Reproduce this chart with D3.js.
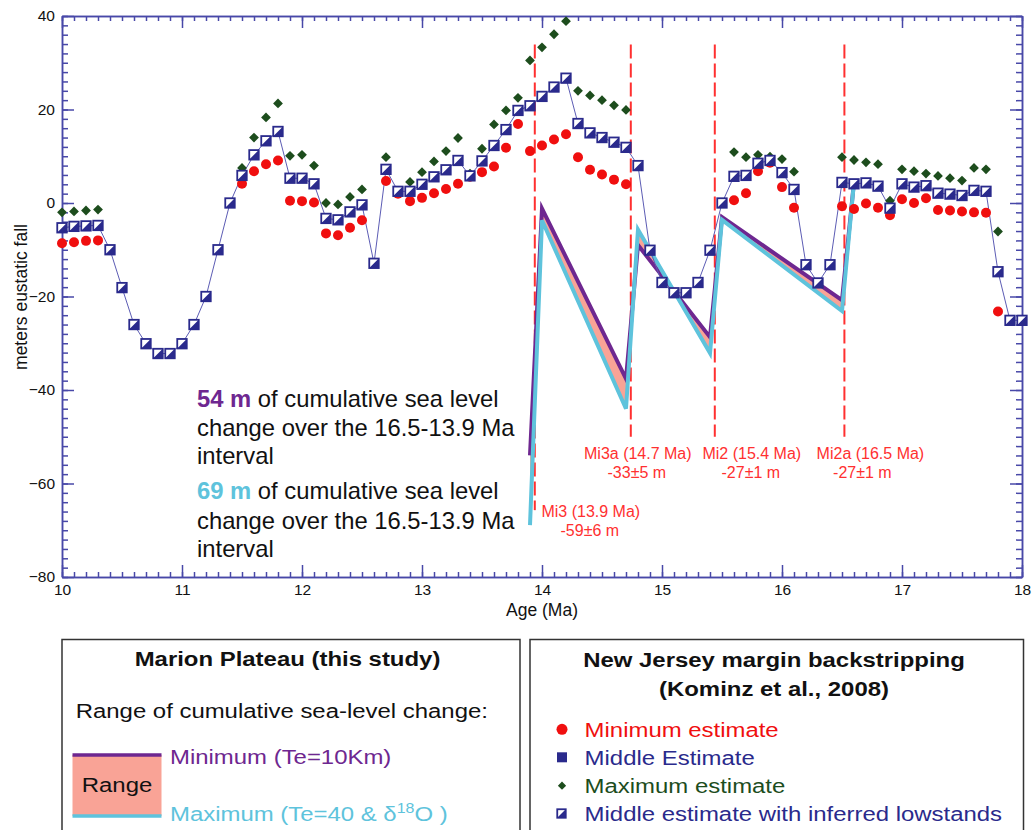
<!DOCTYPE html>
<html>
<head>
<meta charset="utf-8">
<script src="https://cdn.jsdelivr.net/npm/d3@7"></script>
<style>
  body { margin: 0; background: #fff; }
  text { font-family: "Liberation Sans", Arial, Helvetica, sans-serif; white-space: pre; }
</style>
</head>
<body>
<div id="chart"></div>
<script>
// New Jersey backstripping (Kominz et al., 2008), one value per 0.1 Ma
var ages = [10.0, 10.1, 10.2, 10.3, 10.4, 10.5, 10.6, 10.7, 10.8, 10.9,
            11.0, 11.1, 11.2, 11.3, 11.4, 11.5, 11.6, 11.7, 11.8, 11.9,
            12.0, 12.1, 12.2, 12.3, 12.4, 12.5, 12.6, 12.7, 12.8, 12.9,
            13.0, 13.1, 13.2, 13.3, 13.4, 13.5, 13.6, 13.7, 13.8, 13.9,
            14.0, 14.1, 14.2, 14.3, 14.4, 14.5, 14.6, 14.7, 14.8, 14.9,
            15.0, 15.1, 15.2, 15.3, 15.4, 15.5, 15.6, 15.7, 15.8, 15.9,
            16.0, 16.1, 16.2, 16.3, 16.4, 16.5, 16.6, 16.7, 16.8, 16.9,
            17.0, 17.1, 17.2, 17.3, 17.4, 17.5, 17.6, 17.7, 17.8, 17.9, 18.0];

var inferredMid = [-5.3, -5.0, -4.9, -4.8, -10.0, -18.1, -26.0, -30.1, -32.2, -32.2,
                   -30.1, -26.0, -20.0, -10.0, 0.0, 5.9, 10.3, 13.3, 15.3, 5.3,
                   5.3, 4.1, -3.3, -3.6, -1.9, -0.4, -12.9, 7.2, 2.5, 2.5,
                   4.0, 5.6, 7.1, 9.1, 5.8, 9.0, 12.3, 15.7, 19.8, 20.8,
                   22.8, 24.8, 26.7, 17.0, 15.0, 14.0, 13.0, 11.9, 8.0, -10.1,
                   -17.0, -19.2, -19.2, -17.0, -10.1, 0.0, 5.7, 5.9, 8.5, 9.1,
                   6.5, 2.9, -13.2, -17.1, -13.2, 4.4, 4.1, 4.3, 3.6, -1.1,
                   4.1, 3.4, 3.7, 2.1, 1.9, 1.6, 2.7, 2.5, -14.7, -25.1, -25.1];

var minEst = [-8.6, -8.4, -8.1, -8.0, null, null, null, null, null, null,
              null, null, null, null, null, 4.1, 6.8, 8.3, 9.1, 0.5,
              0.4, 0.1, -6.5, -6.9, -5.3, -3.7, null, 4.7, 2.0, 0.4,
              1.1, 2.1, 3.0, 4.1, 5.6, 6.6, 7.8, 11.8, 16.9, 11.1,
              12.3, 13.6, 14.7, 9.8, 7.1, 6.1, 5.0, 4.0, null, null,
              null, null, null, null, null, null, 0.6, 2.1, 6.8, 8.6,
              3.4, -1.0, null, null, null, -0.7, -1.3, -0.1, -1.0, -2.6,
              0.8, 0.0, 1.0, -1.5, -1.6, -1.8, -2.0, -2.1, -23.2, null, null];

var maxEst = [-2.0, -1.8, -1.6, -1.4, null, null, null, null, null, null,
              null, null, null, null, null, 7.5, 14.0, 18.3, 21.3, 10.1,
              10.3, 8.0, 0.0, -0.3, 1.3, 2.9, null, 9.8, null, 4.5,
              6.6, 8.9, 11.1, 13.9, 6.3, 11.6, 16.8, 19.8, 22.5, 30.5,
              33.3, 36.1, 38.9, 24.0, 23.0, 22.0, 20.9, 19.9, null, null,
              null, null, null, null, null, null, 10.9, 9.8, 10.3, 9.9,
              9.4, 6.7, null, null, null, 9.8, 9.2, 8.7, 8.3, 0.5,
              7.2, 6.8, 6.3, 5.8, 5.3, 4.8, 7.5, 7.2, -6.1, null, null];

// Marion Plateau cumulative sea-level change
var marionAge = [13.9, 14.0, 14.7, 14.8, 15.4, 15.5, 16.5, 16.6];
var marionMin = [-54.0, -1.2, -37.6, -9.0, -28.7, -3.0, -20.8, 4.5];
var marionMax = [-68.9, -3.7, -44.0, -5.7, -32.1, -3.6, -23.1, 4.5];

// Oxygen isotope events
var eventAge = [13.94, 14.74, 15.44, 16.52];
var eventName = ["Mi3 (13.9 Ma)", "Mi3a (14.7 Ma)", "Mi2 (15.4 Ma)", "Mi2a (16.5 Ma)"];
var eventFall = ["-59±6 m", "-33±5 m", "-27±1 m", "-27±1 m"];

var xTicks = [10, 11, 12, 13, 14, 15, 16, 17, 18];
var yTicks = [-80, -60, -40, -20, 0, 20, 40];

(function() {
  var margin = { top: 16, left: 62 },
      width = 960,
      height = 561;

  var axisColor = "#4848a8",
      navy = "#2a2a8c",
      red = "#f00f0f",
      green = "#1d4d1d",
      purple = "#6e2790",
      cyan = "#5ec3dc",
      salmon = "#f9a396",
      eventRed = "#ff3030";

  var svg = d3.select("#chart")
    .append("svg")
    .attr("width", 1032)
    .attr("height", 830);

  var g = svg.append("g")
    .attr("transform", "translate(" + margin.left + "," + margin.top + ")");

  var x = d3.scaleLinear().domain([10, 18]).range([0, width]);
  var y = d3.scaleLinear().domain([-80, 40]).range([height, 0]);

  // axes: majors with labels, minors as ticks only, all pointing inward
  var minorX = d3.range(100, 181).map(function(d) { return d / 10; });
  var minorY = d3.range(-80, 41, 2);

  function drawAxis(axis, translate) {
    var ag = g.append("g")
      .attr("class", "axis")
      .attr("transform", translate)
      .call(axis);
    ag.selectAll("path, line").attr("stroke", axisColor).attr("stroke-width", 1.5);
    ag.selectAll("text").attr("fill", "#111").style("font-size", "15.5px");
    return ag;
  }

  drawAxis(d3.axisBottom(x).tickValues(minorX).tickSize(-5).tickSizeOuter(0).tickFormat(""), "translate(0," + height + ")");
  drawAxis(d3.axisBottom(x).tickValues(xTicks).tickSize(-12).tickSizeOuter(0).tickPadding(7).tickFormat(d3.format("d")), "translate(0," + height + ")");
  drawAxis(d3.axisTop(x).tickValues(minorX).tickSize(-5).tickSizeOuter(0).tickFormat(""), "translate(0,0)");
  drawAxis(d3.axisTop(x).tickValues(xTicks).tickSize(-12).tickSizeOuter(0).tickFormat(""), "translate(0,0)");
  drawAxis(d3.axisLeft(y).tickValues(minorY).tickSize(-6).tickSizeOuter(0).tickFormat(""), "translate(0,0)");
  drawAxis(d3.axisLeft(y).tickValues(yTicks).tickSize(-12).tickSizeOuter(0).tickPadding(7).tickFormat(d3.format("d")), "translate(0,0)");
  drawAxis(d3.axisRight(y).tickValues(minorY).tickSize(-6).tickSizeOuter(0).tickFormat(""), "translate(" + width + ",0)");
  drawAxis(d3.axisRight(y).tickValues(yTicks).tickSize(-12).tickSizeOuter(0).tickFormat(""), "translate(" + width + ",0)");

  g.append("text")
    .attr("x", width / 2)
    .attr("y", height + 39)
    .attr("text-anchor", "middle")
    .style("font-size", "17.5px")
    .attr("fill", "#111")
    .text("Age (Ma)");

  svg.append("text")
    .attr("transform", "translate(21,297) rotate(-90)")
    .attr("text-anchor", "middle")
    .attr("dy", "0.35em")
    .style("font-size", "17.5px")
    .attr("fill", "#111")
    .text("meters eustatic fall");

  // isotope event markers
  var evTop = [33.9, 33.9, 33.9, 33.9];
  var evBottom = [-65.7, -50, -50, -50];
  g.selectAll(".event")
    .data(eventAge)
    .enter().append("line")
    .attr("class", "event")
    .attr("x1", function(d) { return x(d); })
    .attr("x2", function(d) { return x(d); })
    .attr("y1", function(d, i) { return y(evTop[i]); })
    .attr("y2", function(d, i) { return y(evBottom[i]); })
    .attr("stroke", eventRed)
    .attr("stroke-width", 2)
    .attr("stroke-dasharray", "14,5");

  var labelDx1 = [56, 7, 37, 26],
      labelDx2 = [55, 6, 36, 18],
      labelY1 = [-66.0, -53.5, -53.5, -53.5],
      labelY2 = [-70.1, -57.7, -57.7, -57.7];
  eventAge.forEach(function(a, i) {
    g.append("text")
      .attr("x", x(a) + labelDx1[i])
      .attr("y", y(labelY1[i]))
      .attr("dy", "0.35em")
      .attr("text-anchor", "middle")
      .attr("fill", eventRed)
      .style("font-size", "16px")
      .text(eventName[i]);
    g.append("text")
      .attr("x", x(a) + labelDx2[i])
      .attr("y", y(labelY2[i]))
      .attr("dy", "0.35em")
      .attr("text-anchor", "middle")
      .attr("fill", eventRed)
      .style("font-size", "16px")
      .text(eventFall[i]);
  });

  // Marion Plateau range
  var marion = marionAge.map(function(a, i) {
    return { age: a, lo: marionMin[i], hi: marionMax[i] };
  });

  g.append("path")
    .datum(marion)
    .attr("fill", salmon)
    .attr("d", d3.area()
      .x(function(d) { return x(d.age); })
      .y0(function(d) { return y(d.hi); })
      .y1(function(d) { return y(d.lo); }));

  g.append("path")
    .datum(marion)
    .attr("fill", "none")
    .attr("stroke", purple)
    .attr("stroke-width", 4)
    .attr("d", d3.line()
      .x(function(d) { return x(d.age); })
      .y(function(d) { return y(d.lo); }));

  g.append("path")
    .datum(marion)
    .attr("fill", "none")
    .attr("stroke", cyan)
    .attr("stroke-width", 4)
    .attr("d", d3.line()
      .x(function(d) { return x(d.age); })
      .y(function(d) { return y(d.hi); }));

  // New Jersey points
  var nj = ages.map(function(a, i) {
    return { age: a, mid: inferredMid[i], min: minEst[i], max: maxEst[i] };
  });

  g.append("path")
    .datum(nj)
    .attr("fill", "none")
    .attr("stroke", "#5c5cb4")
    .attr("stroke-width", 1)
    .attr("d", d3.line()
      .x(function(d) { return x(d.age); })
      .y(function(d) { return y(d.mid); }));

  g.selectAll(".maxpt")
    .data(nj.filter(function(d) { return d.max !== null; }))
    .enter().append("path")
    .attr("class", "maxpt")
    .attr("d", d3.symbol().type(d3.symbolSquare).size(48))
    .attr("transform", function(d) {
      return "translate(" + x(d.age) + "," + y(d.max) + ") rotate(45)";
    })
    .attr("fill", green);

  g.selectAll(".minpt")
    .data(nj.filter(function(d) { return d.min !== null; }))
    .enter().append("circle")
    .attr("class", "minpt")
    .attr("cx", function(d) { return x(d.age); })
    .attr("cy", function(d) { return y(d.min); })
    .attr("r", 5)
    .attr("fill", red);

  function halfSquare(sel, s) {
    sel.append("rect")
      .attr("x", -s / 2).attr("y", -s / 2)
      .attr("width", s).attr("height", s)
      .attr("fill", "#fff")
      .attr("stroke", navy)
      .attr("stroke-width", 1.8);
    sel.append("path")
      .attr("d", "M" + (s / 2) + "," + (-s / 2) + "L" + (s / 2) + "," + (s / 2) + "L" + (-s / 2) + "," + (s / 2) + "Z")
      .attr("fill", navy);
  }

  var sq = g.selectAll(".midpt")
    .data(nj)
    .enter().append("g")
    .attr("class", "midpt")
    .attr("transform", function(d) {
      return "translate(" + x(d.age) + "," + y(d.mid) + ")";
    });
  halfSquare(sq, 9.5);

  // annotation text
  var notes = [
    { color: purple, big: "54 m", top: 398.3 },
    { color: cyan, big: "69 m", top: 491 }
  ];
  notes.forEach(function(n) {
    var t = svg.append("text")
      .attr("x", 197)
      .attr("y", n.top)
      .attr("dy", "0.35em")
      .style("font-size", "23.8px")
      .attr("fill", "#111");
    t.append("tspan").attr("fill", n.color).style("font-weight", "bold").text(n.big);
    t.append("tspan").text(" of cumulative sea level");
    svg.append("text")
      .attr("x", 197).attr("y", n.top + 29.3).attr("dy", "0.35em")
      .style("font-size", "23.8px").attr("fill", "#111")
      .text("change over the 16.5-13.9 Ma");
    svg.append("text")
      .attr("x", 197).attr("y", n.top + 57.7).attr("dy", "0.35em")
      .style("font-size", "23.8px").attr("fill", "#111")
      .text("interval");
  });

  // legend boxes
  var legend = svg.append("g");
  legend.append("rect")
    .attr("x", 62).attr("y", 639.5).attr("width", 458).attr("height", 220)
    .attr("fill", "none").attr("stroke", "#333").attr("stroke-width", 1.5);
  legend.append("rect")
    .attr("x", 530).attr("y", 639.5).attr("width", 493.5).attr("height", 220)
    .attr("fill", "none").attr("stroke", "#333").attr("stroke-width", 1.5);

  function legendText(px, py, str, anchor, color, bold) {
    return legend.append("text")
      .attr("transform", "translate(" + px + "," + py + ") scale(1.14,1)")
      .attr("dy", "0.35em")
      .attr("text-anchor", anchor)
      .attr("fill", color)
      .style("font-size", "21px")
      .style("font-weight", bold ? "bold" : "normal")
      .text(str);
  }

  legendText(287.5, 658.3, "Marion Plateau (this study)", "middle", "#111", true);
  legendText(75.7, 710.7, "Range of cumulative sea-level change:", "start", "#111", false);

  legend.append("rect")
    .attr("x", 72.5).attr("y", 755).attr("width", 89).attr("height", 61)
    .attr("fill", salmon);
  legend.append("line")
    .attr("x1", 72.5).attr("x2", 161.5).attr("y1", 755).attr("y2", 755)
    .attr("stroke", purple).attr("stroke-width", 3.5);
  legend.append("line")
    .attr("x1", 72.5).attr("x2", 161.5).attr("y1", 816).attr("y2", 816)
    .attr("stroke", cyan).attr("stroke-width", 3.5);
  legendText(117, 784.5, "Range", "middle", "#111", false);
  legendText(170, 756.7, "Minimum (Te=10Km)", "start", purple, false);
  var mx = legendText(170, 813.3, "", "start", cyan, false);
  mx.append("tspan").text("Maximum (Te=40 & δ");
  mx.append("tspan").attr("dy", "-8").style("font-size", "14px").text("18");
  mx.append("tspan").attr("dy", "8").text("O )");

  legendText(774, 659.3, "New Jersey margin backstripping", "middle", "#111", true);
  legendText(774, 688.3, "(Kominz et al., 2008)", "middle", "#111", true);

  var njText = ["Minimum estimate", "Middle Estimate", "Maximum estimate", "Middle estimate with inferred lowstands"];
  var njColor = [red, navy, green, navy];
  var njY = [729.3, 757.3, 785.7, 813.5];
  njText.forEach(function(s, i) {
    legendText(584.6, njY[i], s, "start", njColor[i], false);
  });
  legend.append("circle").attr("cx", 562).attr("cy", njY[0]).attr("r", 5.5).attr("fill", red);
  legend.append("rect").attr("x", 557).attr("y", njY[1] - 5).attr("width", 10).attr("height", 10).attr("fill", navy);
  legend.append("path")
    .attr("d", d3.symbol().type(d3.symbolSquare).size(34))
    .attr("transform", "translate(562," + njY[2] + ") rotate(45)")
    .attr("fill", green);
  var lh = legend.append("g").attr("transform", "translate(561.5," + njY[3] + ")");
  halfSquare(lh, 8.5);
})();
</script>
</body>
</html>
